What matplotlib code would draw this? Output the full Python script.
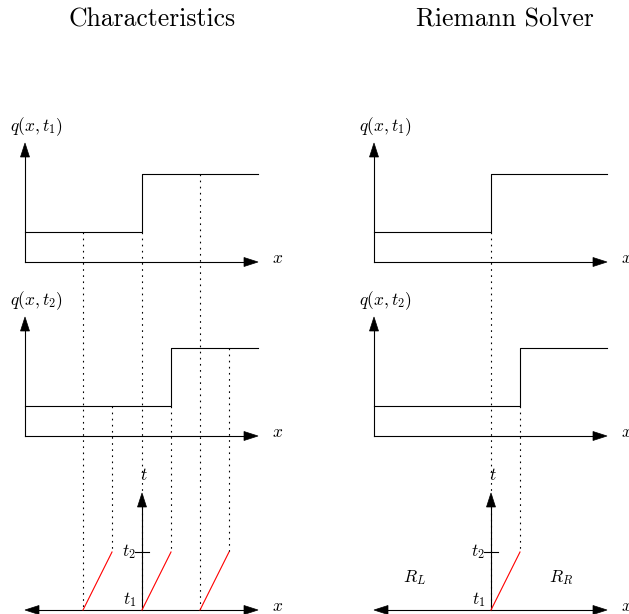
import matplotlib
matplotlib.use("Agg")
import matplotlib.pyplot as plt

plt.rcParams['mathtext.fontset'] = 'cm'
plt.rcParams['lines.scale_dashes'] = False

# layout (pixel units, y grows downward)
col_x0 = [25, 374]            # origin of each column
title_x = [152, 505]
row_axis_y = [262, 436, 610]  # x-axis of each row
axis_len = 233
q_axis_len = 119

# piecewise constant state and its motion
q_low = 30
q_high = 88
jump_t1 = 117                 # jump position at t1 (from origin)
shift = 29                    # how far everything moves from t1 to t2
t_gap = 58                    # t2 - t1 in the x-t plane
t_axis_len = 117

# sample points followed along characteristics
char_x = [58, 117, 175]
titles = ["Characteristics", "Riemann Solver"]

fig = plt.figure(figsize=(6.29, 6.14), dpi=100)
ax = fig.add_axes([0, 0, 1, 1])
ax.set_xlim(0, 629)
ax.set_ylim(614, 0)
ax.axis('off')

lw = 0.8
fs = 12.5
dot = (0, (1.2, 3.2))
head = dict(head_width=9, head_length=14, length_includes_head=True,
            fc='black', ec='black', lw=0.5)


def arrow(x0, y0, x1, y1):
    ax.arrow(x0, y0, x1 - x0, y1 - y0, **head)


def q_value(xr, jump):
    return q_low if xr < jump else q_high


for c, x0 in enumerate(col_x0):
    ax.text(title_x[c], 20, titles[c], family='cmr10', fontsize=18.5,
            ha='center', va='center')

    # q(x,t1) and q(x,t2)
    for r, sub in enumerate(['1', '2']):
        ya = row_axis_y[r]
        jump = jump_t1 + r * shift
        ax.plot([x0, x0 + axis_len - 10], [ya, ya], color='black', lw=lw)
        arrow(x0 + axis_len - 14, ya, x0 + axis_len, ya)
        ax.plot([x0, x0], [ya, ya - q_axis_len + 10], color='black', lw=lw)
        arrow(x0, ya - q_axis_len + 14, x0, ya - q_axis_len)
        ax.plot([x0, x0 + jump, x0 + jump, x0 + axis_len],
                [ya - q_low, ya - q_low, ya - q_high, ya - q_high],
                color='black', lw=lw)
        ax.text(x0 - 15, row_axis_y[r] - 135, r'$q(x,t_%s)$' % sub,
                fontsize=fs, ha='left', va='center')
        ax.text(x0 + axis_len + 14, ya - 4, r'$x$', fontsize=fs,
                ha='left', va='center')

    # x-t plane
    ya = row_axis_y[2]
    xt = x0 + jump_t1
    ax.plot([x0 + 10, x0 + axis_len - 10], [ya, ya], color='black', lw=lw)
    arrow(x0 + 14, ya, x0, ya)
    arrow(x0 + axis_len - 14, ya, x0 + axis_len, ya)
    ax.plot([xt, xt], [ya, ya - t_axis_len + 10], color='black', lw=lw)
    arrow(xt, ya - t_axis_len + 14, xt, ya - t_axis_len)
    ax.plot([xt - 7, xt + 7], [ya - t_gap, ya - t_gap], color='black', lw=lw)
    ax.text(xt + 2, ya - t_axis_len - 18, r'$t$', fontsize=fs,
            ha='center', va='center')
    ax.text(xt - 6, ya - t_gap, r'$t_2$', fontsize=fs, ha='right', va='center')
    ax.text(xt - 6, ya - 10, r'$t_1$', fontsize=fs, ha='right', va='center')
    ax.text(x0 + axis_len + 14, ya - 4, r'$x$', fontsize=fs,
            ha='left', va='center')

    pts = char_x if c == 0 else [jump_t1]
    for xr in pts:
        xa = x0 + xr
        xb = xa + shift
        # dotted guides from q(x,t1) and q(x,t2) down to the x-t plane
        ax.plot([xa, xa], [row_axis_y[0] - q_value(xr, jump_t1 + 1), ya],
                color='black', lw=lw, ls=dot)
        ax.plot([xb, xb], [row_axis_y[1] - q_value(xr, jump_t1 + 1), ya - t_gap],
                color='black', lw=lw, ls=dot)
        ax.plot([xa, xb], [ya, ya - t_gap], color='red', lw=lw)

    if c == 1:
        ax.text(x0 + 41, ya - 32, r'$R_L$', fontsize=fs, ha='center', va='center')
        ax.text(x0 + 187, ya - 32, r'$R_R$', fontsize=fs, ha='center', va='center')

fig.savefig('out.png', dpi=100)
